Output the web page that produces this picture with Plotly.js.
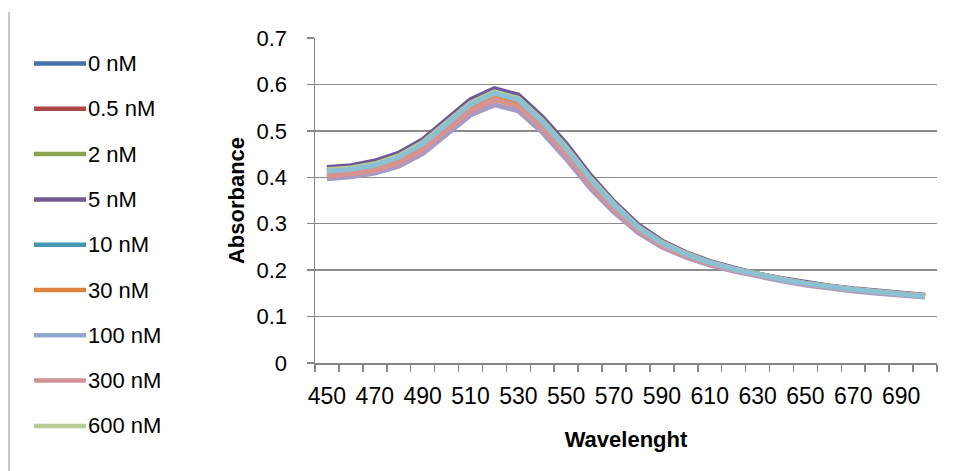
<!DOCTYPE html>
<html>
<head>
<meta charset="utf-8">
<script src="https://cdn.plot.ly/plotly-3.0.1.min.js"></script>
<style>html,body{margin:0;padding:0;background:#fff;}#chart{width:958px;height:471px;}</style>
</head>
<body>
<div id="chart"></div>
<script>
// ---- data ----
var wavelengths = [450,460,470,480,490,500,510,520,530,540,550,560,570,580,590,600,610,620,630,640,650,660,670,680,690,700];
var seriesNames = ["0 nM","0.5 nM","2 nM","5 nM","10 nM","30 nM","100 nM","300 nM","600 nM"];
var abs_0nM   = [0.414,0.418,0.427,0.444,0.473,0.515,0.558,0.582,0.568,0.521,0.463,0.397,0.341,0.293,0.259,0.235,0.217,0.203,0.191,0.181,0.172,0.165,0.159,0.154,0.149,0.145];
var abs_05nM  = [0.412,0.416,0.425,0.442,0.471,0.513,0.556,0.580,0.566,0.519,0.461,0.395,0.339,0.291,0.257,0.233,0.215,0.201,0.189,0.179,0.170,0.163,0.157,0.152,0.147,0.143];
var abs_2nM   = [0.415,0.419,0.428,0.445,0.474,0.516,0.559,0.583,0.569,0.522,0.464,0.398,0.342,0.294,0.260,0.236,0.217,0.203,0.191,0.181,0.172,0.165,0.159,0.154,0.149,0.145];
var abs_5nM   = [0.421,0.425,0.435,0.452,0.481,0.524,0.567,0.591,0.577,0.530,0.472,0.405,0.347,0.298,0.263,0.238,0.219,0.205,0.192,0.182,0.173,0.166,0.160,0.155,0.150,0.146];
var abs_10nM  = [0.413,0.417,0.426,0.443,0.472,0.514,0.557,0.581,0.567,0.520,0.462,0.396,0.340,0.292,0.258,0.234,0.216,0.202,0.190,0.180,0.171,0.164,0.158,0.153,0.148,0.144];
var abs_30nM  = [0.404,0.408,0.417,0.433,0.462,0.503,0.546,0.570,0.556,0.509,0.452,0.387,0.333,0.287,0.254,0.231,0.214,0.200,0.189,0.179,0.170,0.163,0.157,0.152,0.148,0.145];
var abs_100nM = [0.397,0.401,0.409,0.424,0.451,0.491,0.534,0.556,0.543,0.497,0.440,0.377,0.325,0.281,0.250,0.228,0.211,0.198,0.187,0.177,0.168,0.161,0.155,0.150,0.146,0.142];
var abs_300nM = [0.403,0.407,0.415,0.431,0.459,0.500,0.543,0.567,0.553,0.506,0.449,0.385,0.331,0.286,0.253,0.230,0.213,0.200,0.189,0.179,0.170,0.163,0.157,0.152,0.148,0.145];
var abs_600nM = [0.416,0.420,0.429,0.446,0.475,0.517,0.560,0.584,0.570,0.523,0.465,0.399,0.343,0.294,0.260,0.236,0.217,0.203,0.191,0.181,0.172,0.165,0.159,0.154,0.149,0.145];
var xTickVals = [450,470,490,510,530,550,570,590,610,630,650,670,690];
var xTickText = ["450","470","490","510","530","550","570","590","610","630","650","670","690"];

// ---- styles ----
var seriesValues = [abs_0nM,abs_05nM,abs_2nM,abs_5nM,abs_10nM,abs_30nM,abs_100nM,abs_300nM,abs_600nM];
var legendColors = ["#4572A7","#AA4643","#89A54E","#71588F","#4198AF","#DB843D","#93A9CF","#D19392","#B9CD96"];
var lineColors   = ["#4A7EBB","#BE4B48","#98B954","#6F5A96","#8BC1D3","#E8883F","#A69AC6","#D8928F","#B9CD96"];
var drawOrder = [0,1,2,3,8,5,6,7,4];

var FONT = "Liberation Sans, Arial, sans-serif";
var NARROW = "Liberation Sans Narrow, Arial Narrow, Liberation Sans, sans-serif";
var plotL = 315, plotR = 937, plotT = 38, plotB = 363;
function pX(px){ return (px - plotL) / (plotR - plotL); }
function pY(py){ return (plotB - py) / (plotB - plotT); }

var traces = drawOrder.map(function(i){
  return {
    x: wavelengths, y: seriesValues[i], name: seriesNames[i],
    type: "scatter", mode: "lines",
    line: {color: lineColors[i], width: 5},
    showlegend: false, hoverinfo: "name+x+y"
  };
});

var shapes = [{
  type: "line", xref: "paper", yref: "paper",
  x0: pX(9), x1: pX(9), y0: pY(12), y1: pY(471),
  line: {color: "#B4B4B4", width: 1.5}
}];
var annotations = [];
seriesNames.forEach(function(n, i){
  var py = 63.5 + i * 45.3;
  shapes.push({
    type: "line", xref: "paper", yref: "paper",
    x0: pX(34), x1: pX(86), y0: pY(py), y1: pY(py),
    line: {color: legendColors[i], width: 4.5}
  });
  annotations.push({
    xref: "paper", yref: "paper", x: pX(86), y: pY(py),
    xanchor: "left", yanchor: "middle", showarrow: false,
    text: n, font: {family: FONT, size: 22, color: "#000"}
  });
});

var layout = {
  width: 958, height: 471,
  margin: {l: plotL, r: 958 - plotR, t: plotT, b: 471 - plotB, pad: 0},
  paper_bgcolor: "#fff", plot_bgcolor: "#fff",
  showlegend: false,
  font: {family: FONT, size: 22, color: "#000"},
  xaxis: {
    range: [445, 705], fixedrange: true,
    tickmode: "array", tickvals: xTickVals, ticktext: xTickText,
    ticks: "", showgrid: false, zeroline: false,
    showline: true, linecolor: "#868686", linewidth: 1.5,
    ticklabelstandoff: 12,
    tickfont: {family: NARROW, size: 23, color: "#000"},
    minor: {tick0: 445, dtick: 10, ticks: "outside", ticklen: 7, tickcolor: "#868686", tickwidth: 1.5, showgrid: false},
    title: {text: "<b>Wavelenght</b>", font: {family: FONT, size: 22, color: "#000"}, standoff: 23}
  },
  yaxis: {
    range: [0, 0.7], dtick: 0.1, tick0: 0, fixedrange: true,
    ticks: "outside", ticklen: 7, tickcolor: "#868686", tickwidth: 1.5,
    showgrid: true, gridcolor: "#8C8C8C", gridwidth: 1.5,
    zeroline: false, showline: true, linecolor: "#868686", linewidth: 1.5,
    ticklabelstandoff: 15,
    tickfont: {family: FONT, size: 22, color: "#000"},
    title: {text: "<b>Absorbance</b>", font: {family: FONT, size: 22, color: "#000"}, standoff: 6}
  },
  shapes: shapes,
  annotations: annotations
};

Plotly.newPlot("chart", traces, layout, {displayModeBar: false, staticPlot: true});
</script>
</body>
</html>
